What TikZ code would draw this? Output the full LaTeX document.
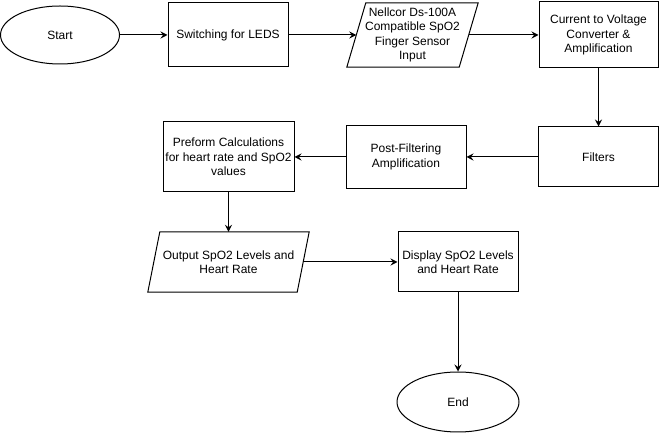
\documentclass[tikz,border=0pt]{standalone}
\usepackage{fontspec}
\setmainfont{Liberation Sans}
\usetikzlibrary{arrows.meta,shapes.geometric}
\begin{document}
\begin{tikzpicture}[x=1pt,y=-1pt,
  every node/.style={font=\fontsize{12}{14.4}\selectfont, align=center, inner sep=1pt},
  box/.style={draw=black, line width=1pt, rectangle, minimum width=#1},
  oval/.style={draw=black, line width=1pt, ellipse, minimum width=119pt, minimum height=58pt},
  para/.style={rectangle, minimum width=#1},
  conn/.style={line width=1pt, -{Stealth[length=7pt,width=7pt,inset=2.5pt]}}
]
\useasboundingbox (0,0) rectangle (659,435);
\fill[white] (0,0) rectangle (659,435);

\node[oval] (start) at (60,35) {Start};
\node[box=120pt, minimum height=64pt] (switch) at (228,35) {Switching for LEDS};
\node[para=112pt, minimum height=64pt] (nell) at (412.5,35) {Nellcor Ds-100A\\Compatible SpO2\\Finger Sensor\\Input};
\draw[line width=1pt] ([xshift=-9.5pt]nell.south west) -- ([xshift=9.5pt]nell.north west) -- ([xshift=9.5pt]nell.north east) -- ([xshift=-9.5pt]nell.south east) -- cycle;
\node[box=119pt, minimum height=66pt] (ctv) at (598.5,35) {Current to Voltage\\Converter \&\\Amplification};
\node[box=120pt, minimum height=60pt] (filt) at (598.5,157) {Filters};
\node[box=120pt, minimum height=63pt] (post) at (406,157) {Post-Filtering\\Amplification};
\node[box=131pt, minimum height=70pt] (calc) at (228.5,157) {Preform Calculations\\for heart rate and SpO2\\values};
\node[para=149pt, minimum height=60pt] (out) at (228.5,262) {Output SpO2 Levels and\\Heart Rate};
\draw[line width=1pt] ([xshift=-6pt]out.south west) -- ([xshift=6pt]out.north west) -- ([xshift=6pt]out.north east) -- ([xshift=-6pt]out.south east) -- cycle;
\node[box=120pt, minimum height=60pt] (disp) at (458,262) {Display SpO2 Levels\\and Heart Rate};
\node[oval, minimum width=122pt, minimum height=60pt] (end) at (458,402) {End};

\draw[conn] (start) -- (switch);
\draw[conn] (switch.east) -- (nell.west);
\draw[conn] (nell.east) -- (ctv.west);
\draw[conn] (ctv) -- (filt);
\draw[conn] (filt) -- (post);
\draw[conn] (post) -- (calc);
\draw[conn] (calc.south) -- (out.north);
\draw[conn] (out.east) -- (disp.west);
\draw[conn] (disp) -- (end);
\end{tikzpicture}
\end{document}
